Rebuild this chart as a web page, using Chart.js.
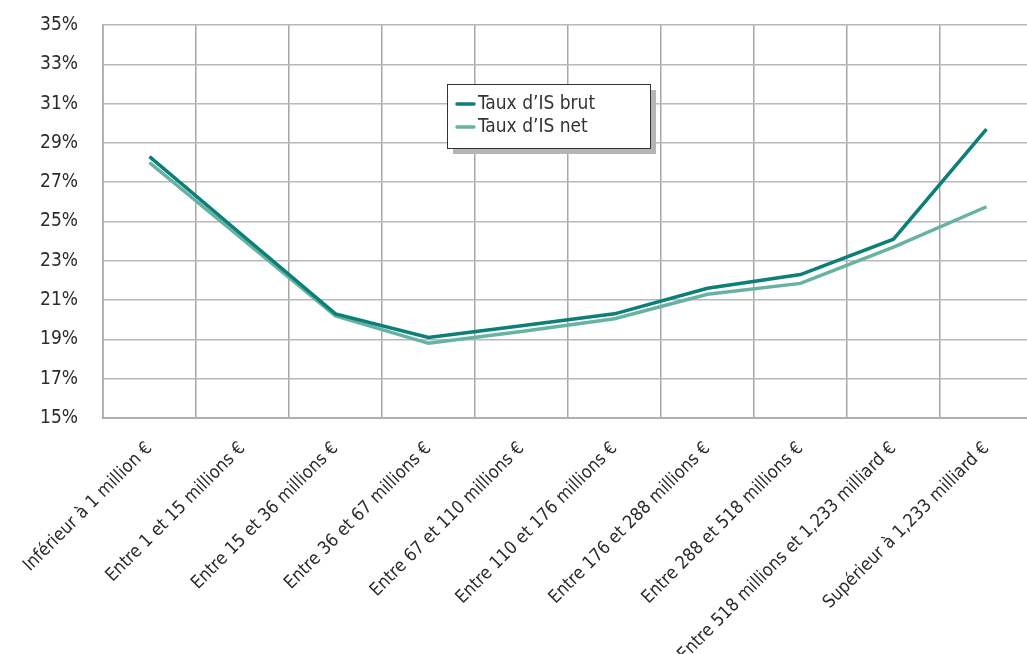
<!DOCTYPE html>
<html>
<head>
<meta charset="utf-8">
<script src="https://cdn.jsdelivr.net/npm/chart.js@4"></script>
<style>
  body { margin: 0; overflow: hidden; background: #fff; }
  #wrap { width: 1033px; height: 654px; }
</style>
</head>
<body>
<div id="wrap"><canvas id="taux-chart"></canvas></div>
<script>
const FONT = '"Liberation Sans Narrow", "DejaVu Sans Condensed", "Roboto", sans-serif'

const categories = [
    'Inférieur à 1 million €',
    'Entre 1 et 15 millions €',
    'Entre 15 et 36 millions €',
    'Entre 36 et 67 millions €',
    'Entre 67 et 110 millions €',
    'Entre 110 et 176 millions €',
    'Entre 176 et 288 millions €',
    'Entre 288 et 518 millions €',
    'Entre 518 millions et 1,233 milliard €',
    'Supérieur à 1,233 milliard €',
]
const tauxBrut = [28.3, 24.3, 20.3, 19.1, 19.7, 20.3, 21.6, 22.3, 24.1, 29.7]
const tauxNet = [28.0, 24.1, 20.2, 18.8, 19.4, 20.05, 21.3, 21.85, 23.7, 25.75]

// encadré de légende avec ombre portée
const boxLegend = {
    id: 'boxLegend',
    afterDraw(chart) {
        const ctx = chart.ctx
        const a = chart.chartArea
        const x = a.left + 344, y = a.top + 59, w = 203, h = 64
        ctx.save()
        ctx.fillStyle = '#b5b5b5'
        ctx.fillRect(x + 6, y + 6, w, h)
        ctx.fillStyle = '#fff'
        ctx.fillRect(x, y, w, h)
        ctx.strokeStyle = '#333'
        ctx.lineWidth = 1
        ctx.strokeRect(x + 0.5, y + 0.5, w, h)
        ctx.font = '19px ' + FONT
        ctx.textBaseline = 'middle'
        chart.data.datasets.forEach((ds, i) => {
            const ly = y + 20 + i * 23
            ctx.strokeStyle = ds.borderColor
            ctx.lineWidth = 3.5
            ctx.lineCap = 'round'
            ctx.beginPath()
            ctx.moveTo(x + 10, ly)
            ctx.lineTo(x + 27, ly)
            ctx.stroke()
            ctx.fillStyle = '#333'
            ctx.fillText(ds.label, x + 31, ly)
        })
        ctx.restore()
    }
}

new Chart(document.getElementById('taux-chart').getContext('2d'), {
    type: 'line',
    data: {
        labels: categories,
        datasets: [{
            label: "Taux d’IS brut",
            data: tauxBrut,
            borderColor: '#0b7f78',
            borderWidth: 3.5,
            pointRadius: 0,
            tension: 0,
        }, {
            label: "Taux d’IS net",
            data: tauxNet,
            borderColor: '#67b3a2',
            borderWidth: 3.5,
            pointRadius: 0,
            tension: 0,
        }],
    },
    options: {
        responsive: true,
        maintainAspectRatio: false,
        animation: false,
        layout: { padding: { top: 25, right: 0, left: 0, bottom: 0 } },
        plugins: {
            legend: { display: false },
            tooltip: { enabled: false },
        },
        scales: {
            x: {
                offset: true,
                grid: { offset: true, color: '#a6a6a6', lineWidth: 1.5, drawTicks: false },
                border: { color: '#b0b0b0', width: 2 },
                ticks: {
                    color: '#2b2b2b',
                    font: { family: FONT, size: 18 },
                    maxRotation: 45,
                    minRotation: 45,
                    autoSkip: false,
                    padding: 20,
                },
                afterFit(scale) { scale.height = 236 },
            },
            y: {
                min: 15,
                max: 35,
                grid: { color: '#b8b8b8', lineWidth: 1.5, drawTicks: false },
                border: { color: '#a6a6a6', width: 1.5 },
                ticks: {
                    stepSize: 2,
                    color: '#2b2b2b',
                    font: { family: FONT, size: 19 },
                    padding: 25,
                    callback: (v) => v + '%',
                },
                afterFit(scale) {
                    scale.width = 103
                    scale.paddingTop = 0
                    scale.paddingBottom = 0
                },
            },
        },
    },
    plugins: [boxLegend],
});
</script>
</body>
</html>
